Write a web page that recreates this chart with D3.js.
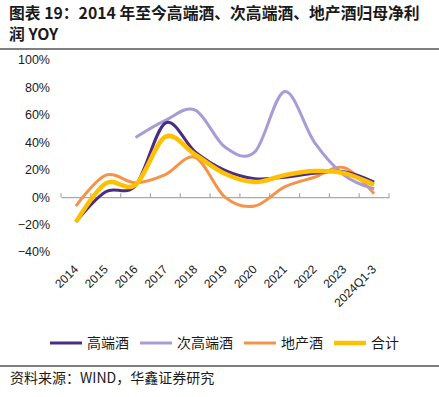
<!DOCTYPE html>
<html><head><meta charset="utf-8">
<script src="https://cdn.jsdelivr.net/npm/d3@7"></script>
<style>body{margin:0;background:#fff;}svg{display:block;font-family:"Liberation Sans",Arial,sans-serif;}</style>
</head><body>
<script>
const categories = ["2014","2015","2016","2017","2018","2019","2020","2021","2022","2023","2024Q1-3"];
const highEnd   = [-18, 4, 8.5, 54, 33, 19.5, 13.5, 14.5, 17.5, 18.5, 11];
const subHigh   = [null, null, 43.5, 56, 63.5, 36.5, 33, 77, 40, 16, 6];
const local     = [-6.5, 16, 10.5, 16.5, 29, 0, -6.5, 7.5, 14.5, 21.5, 2.5];
const total     = [-18, 10, 9, 44, 31, 17, 11, 16, 19, 17.5, 9];
const yTicks = [-40,-20,0,20,40,60,80,100];
const seriesNames = ["高端酒","次高端酒","地产酒","合计"];
const colors = ["#4B2C83","#A99BD6","#F69348","#FFC000"];
const widths = [3,3,3,4.5];

const W=439,H=397;
const svg=d3.select("body").append("svg").attr("width",W).attr("height",H);
const cjk='"Noto Sans CJK SC","Noto Sans",sans-serif';

svg.append("text").attr("x",9).attr("y",19).attr("font-family",cjk).attr("font-weight","bold").attr("font-size",15.8).attr("fill","#1a1a1a")
  .text("图表 19：2014 年至今高端酒、次高端酒、地产酒归母净利");
svg.append("text").attr("x",9).attr("y",40).attr("font-family",cjk).attr("font-weight","bold").attr("font-size",15.8).attr("fill","#1a1a1a")
  .text("润 YOY");
svg.append("line").attr("x1",0).attr("x2",W).attr("y1",49).attr("y2",49).attr("stroke","#555").attr("stroke-width",1.5);
svg.append("line").attr("x1",0).attr("x2",W).attr("y1",366).attr("y2",366).attr("stroke","#555").attr("stroke-width",1.5);
svg.append("text").attr("x",10).attr("y",383).attr("font-family",cjk).attr("font-size",14).attr("fill","#1a1a1a")
  .text("资料来源：WIND，华鑫证券研究");

const x=d3.scaleBand().domain(categories).range([61,389]);
const y=d3.scaleLinear().domain([-40,100]).range([252,60]);

// y labels
svg.append("g").selectAll("text").data(yTicks).join("text")
  .attr("x",50).attr("y",d=>y(d)).attr("dy","0.35em").attr("text-anchor","end")
  .attr("font-size",12.5).attr("fill","#1a1a1a").text(d=>(d<0?"−"+(-d):d)+"%");

// zero axis
const ag=svg.append("g").attr("transform",`translate(0,${y(0)})`);
ag.call(d3.axisBottom(x).tickSize(0).tickFormat(""));
ag.select(".domain").attr("stroke","#aaa").attr("stroke-width",1.2);
const bounds=categories.map(c=>x(c)).concat([x.range()[1]]);
ag.selectAll("line.b").data(bounds).join("line").attr("class","b")
  .attr("x1",d=>d).attr("x2",d=>d).attr("y1",-4).attr("y2",0).attr("stroke","#aaa").attr("stroke-width",1.2);

// x labels
svg.append("g").selectAll("text").data(categories).join("text")
  .attr("transform",d=>`translate(${x(d)+x.bandwidth()/2},${267}) rotate(-45)`)
  .attr("text-anchor","end").attr("dy","0.35em")
  .attr("font-size",12).attr("fill","#1a1a1a").text(d=>d);

const allSeries=[highEnd,subHigh,local,total];
const line=d3.line().defined(d=>d.v!=null).x(d=>x(d.c)+x.bandwidth()/2).y(d=>y(d.v)).curve(d3.curveCatmullRom.alpha(0));
const order=[2,1,0,3];
order.forEach(i=>{
  const data=categories.map((c,j)=>({c,v:allSeries[i][j]})).filter(d=>d.v!=null);
  svg.append("path").datum(data).attr("d",line).attr("fill","none")
    .attr("stroke",colors[i]).attr("stroke-width",widths[i]).attr("stroke-linecap","butt").attr("stroke-linejoin","round");
});

// legend
const legX=[50,140,244,334];
const lg=svg.append("g");
seriesNames.forEach((n,i)=>{
  lg.append("line").attr("x1",legX[i]).attr("x2",legX[i]+32).attr("y1",343).attr("y2",343)
    .attr("stroke",colors[i]).attr("stroke-width",widths[i]);
  lg.append("text").attr("x",legX[i]+37).attr("y",343).attr("dy","0.35em").attr("font-family",cjk)
    .attr("font-size",14).attr("fill","#1a1a1a").text(n);
});
</script>
</body></html>
